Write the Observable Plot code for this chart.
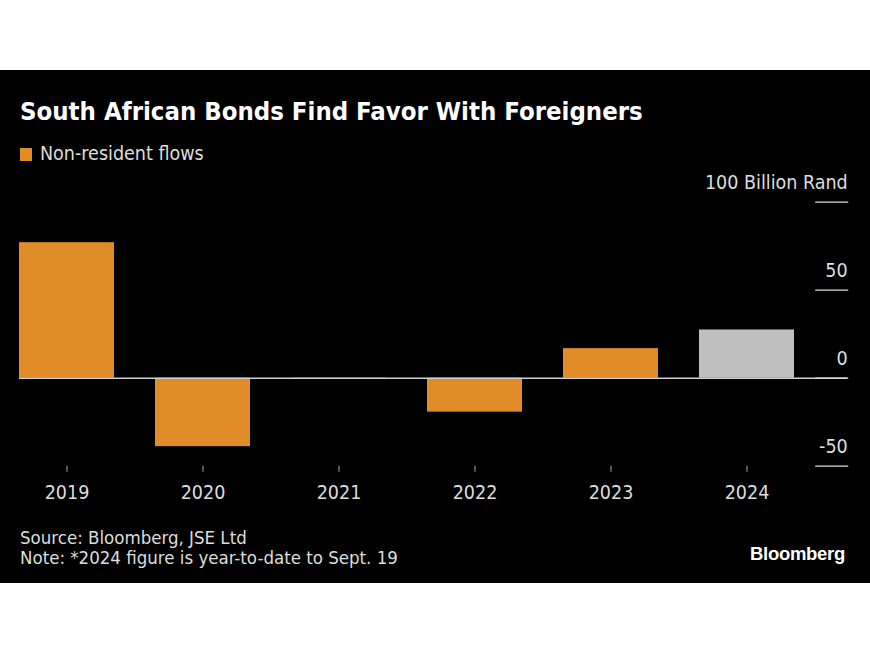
<!DOCTYPE html>
<html>
<head>
<meta charset="utf-8">
<script src="https://cdn.jsdelivr.net/npm/d3@7"></script>
<script src="https://cdn.jsdelivr.net/npm/@observablehq/plot@0.6"></script>
<style>
  html, body { margin: 0; padding: 0; background: #fff; width: 870px; height: 653px; overflow: hidden; }
  #panel { position: absolute; left: 0; top: 70px; width: 870px; height: 513px; background: #000;
           font-family: "DejaVu Sans Condensed", "DejaVu Sans", sans-serif; color: #ddd; }
  #title { position: absolute; left: 20px; top: 26px; font-size: 25.5px; font-weight: bold; color: #fff; white-space: nowrap; line-height: 30px; }
  #legend { position: absolute; left: 20px; top: 72px; font-size: 19.5px; line-height: 24px; color: #ddd; display: flex; align-items: center; }
  #legend .sw { width: 12px; height: 13px; background: #DF8C29; margin-right: 8px; }
  #chart { position: absolute; left: 0; top: 95px; }
  #source { position: absolute; left: 20px; top: 458px; font-size: 18.5px; line-height: 20px; color: #ddd; white-space: nowrap; }
  #brand { position: absolute; right: 25px; top: 473px; font-size: 18.5px; font-weight: bold; color: #fff; font-family: "Liberation Sans", Arial, sans-serif; letter-spacing: -0.3px; }
</style>
</head>
<body>
<div id="panel">
  <div id="title">South African Bonds Find Favor With Foreigners</div>
  <div id="legend"><span class="sw"></span><span>Non-resident flows</span></div>
  <div id="chart"></div>
  <div id="source">Source: Bloomberg, JSE Ltd<br>Note: *2024 figure is year-to-date to Sept. 19</div>
  <div id="brand">Bloomberg</div>
</div>
<script>
const years = ["2019", "2020", "2021", "2022", "2023", "2024"];
const flows = [77.0, -38.9, -0.5, -19.3, 16.8, 27.4];
const partial = [false, false, false, false, false, true];
const yTicks = [100, 50, 0, -50];

const data = years.map((y, i) => ({year: y, value: flows[i], partial: partial[i]}));

const orange = "#DF8C29";
const gray = "#BFBFBF";

const chart = Plot.plot({
  width: 870,
  height: 345,
  marginLeft: 19,
  marginRight: 75.8,
  marginTop: 36.7,
  marginBottom: 44.3,
  style: { background: "transparent", color: "#ddd", fontFamily: "'DejaVu Sans Condensed', 'DejaVu Sans', sans-serif", fontSize: "19px" },
  x: { domain: years, paddingInner: 0.3, paddingOuter: 0, label: null },
  y: { domain: [-50, 100], label: null },
  marks: [
    Plot.barY(data, { x: "year", y: "value", fill: d => d.partial ? gray : orange }),
    Plot.ruleY([0], { stroke: "#d0d0d0", strokeWidth: 1.5, insetRight: -53 }),
    Plot.axisX({ tickSize: 6, tickPadding: 13, stroke: "#aaa", fill: "#ddd", fontSize: 19.5 }),
    Plot.axisY(yTicks, { anchor: "right", tickSize: 33, dx: 20, tickFormat: () => "", stroke: "#ddd", strokeWidth: 1.3 }),
    Plot.axisY(yTicks, { anchor: "right", tickSize: 0, tickPadding: 0, dx: 53, dy: -19, textAnchor: "end",
      tickFormat: d => d === 100 ? "100 Billion Rand" : String(d), fill: "#ddd", fontSize: 19.5 })
  ]
});
document.getElementById("chart").appendChild(chart);
</script>
</body>
</html>
